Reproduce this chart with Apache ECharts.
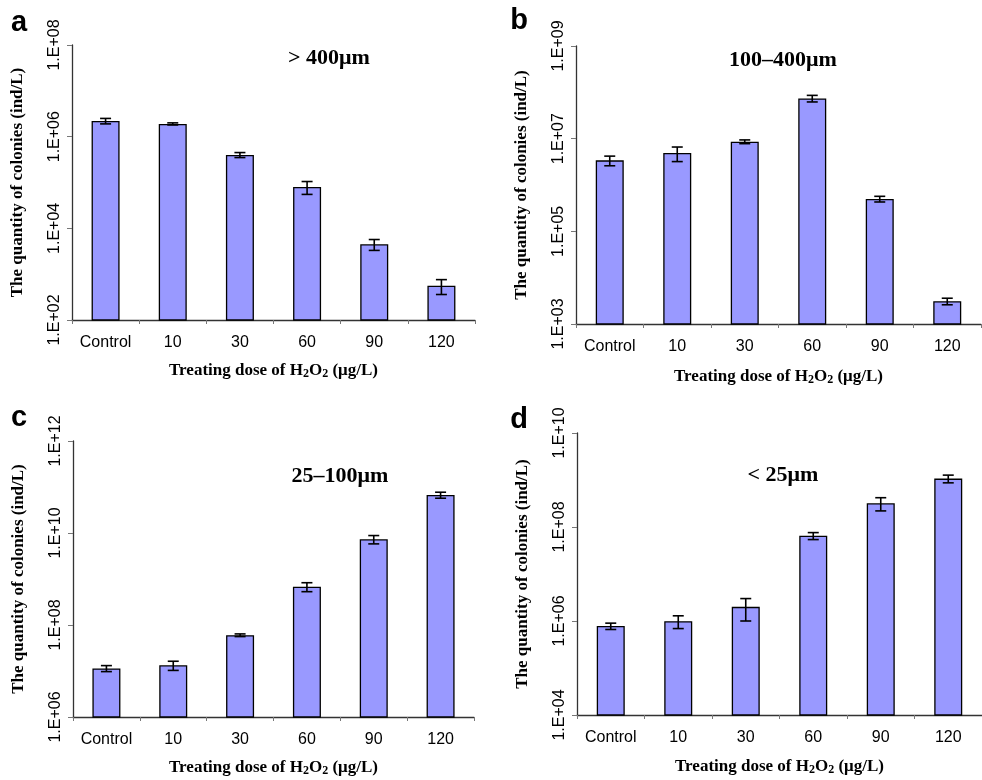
<!DOCTYPE html>
<html>
<head>
<meta charset="utf-8">
<script src="https://cdn.jsdelivr.net/npm/echarts@6/dist/echarts.min.js"></script>
<style>
  html, body { margin: 0; padding: 0; background: #fff; }
  #main { width: 982px; height: 780px; }
</style>
</head>
<body>
<div id="main"></div>
<script>
// dose groups
const categories = ['Control', '10', '30', '60', '90', '120'];

// a: > 400um
const meanA = [2.2e6, 1.9e6, 4.0e5, 8.0e4, 4.5e3, 5.6e2];
const sdA = [3e5, 1e5, 5e4, 2.5e4, 1.2e3, 2e2];
// b: 100-400um
const meanB = [3.4e6, 4.9e6, 8.6e6, 7.4e7, 5.0e5, 3.1e3];
const sdB = [8e5, 1.7e6, 8e5, 1.2e7, 7e4, 5e2];
// c: 25-100um
const meanC = [1.14e7, 1.33e7, 6.0e7, 6.8e8, 7.3e9, 6.7e10];
const sdC = [1.7e6, 3e6, 4e6, 1.5e8, 1.5e9, 1e10];
// d: < 25um
const meanD = [7.8e5, 9.9e5, 2.0e6, 6.5e7, 3.2e8, 1.07e9];
const sdD = [1.2e5, 3e5, 1.0e6, 1.1e7, 1.0e8, 2e8];

// y axis ranges + tick values
const ticksA = [1e2, 1e4, 1e6, 1e8];
const ticksB = [1e3, 1e5, 1e7, 1e9];
const ticksC = [1e6, 1e8, 1e10, 1e12];
const ticksD = [1e4, 1e6, 1e8, 1e10];

const panelTitles = ['> 400μm', '100–400μm', '25–100μm', '< 25μm'];
const panelLetters = ['a', 'b', 'c', 'd'];

const panels = [
  { mean: meanA, sd: sdA, ticks: ticksA, grid: { left: 72, top: 45, width: 403, height: 275 }, nameGap: 42 },
  { mean: meanB, sd: sdB, ticks: ticksB, grid: { left: 576, top: 46, width: 405, height: 278 }, nameGap: 44 },
  { mean: meanC, sd: sdC, ticks: ticksC, grid: { left: 73, top: 441, width: 401, height: 276 }, nameGap: 42 },
  { mean: meanD, sd: sdD, ticks: ticksD, grid: { left: 577, top: 433, width: 405, height: 282 }, nameGap: 43 }
];

const serif = '"Liberation Serif", "Times New Roman", serif';
const sans = '"Liberation Sans", Arial, sans-serif';
const axisColor = '#333';
const tickColor = '#777';

function expLabel(v) {
  const e = Math.round(Math.log10(v));
  return '1.E+' + String(e).padStart(2, '0');
}

function errorBar(params, api) {
  const i = api.value(0);
  const m = api.value(1);
  const s = api.value(2);
  const top = api.coord([i, m + s]);
  const bot = api.coord([i, m - s]);
  const half = 5.5;
  const st = { stroke: '#000', lineWidth: 1.6 };
  return {
    type: 'group',
    children: [
      { type: 'line', shape: { x1: top[0], y1: top[1], x2: bot[0], y2: bot[1] }, style: st },
      { type: 'line', shape: { x1: top[0] - half, y1: top[1], x2: top[0] + half, y2: top[1] }, style: st },
      { type: 'line', shape: { x1: bot[0] - half, y1: bot[1], x2: bot[0] + half, y2: bot[1] }, style: st }
    ]
  };
}

const grids = [], xAxes = [], yAxes = [], series = [], graphics = [];

panels.forEach(function (p, k) {
  grids.push(Object.assign({ containLabel: false }, p.grid));
  xAxes.push({
    type: 'category',
    gridIndex: k,
    data: categories,
    boundaryGap: true,
    name: 'Treating dose of H{s|2}O{s|2} (μg/L)',
    nameLocation: 'middle',
    nameGap: p.nameGap,
    nameTextStyle: {
      fontFamily: serif, fontWeight: 'bold', fontSize: 17, color: '#000',
      rich: { s: { fontFamily: serif, fontWeight: 'bold', fontSize: 12, color: '#000', verticalAlign: 'bottom', padding: [6, 0, 0, 0] } }
    },
    axisLine: { lineStyle: { color: axisColor, width: 1.3 } },
    axisTick: { show: true, interval: 0, alignWithLabel: false, length: 4, lineStyle: { color: tickColor } },
    axisLabel: { interval: 0, hideOverlap: false, margin: 15, fontFamily: sans, fontSize: 16, color: '#000' },
    splitLine: { show: false }
  });
  yAxes.push({
    type: 'log',
    logBase: 10,
    gridIndex: k,
    min: p.ticks[0],
    max: p.ticks[p.ticks.length - 1],
    name: 'The quantity of colonies (ind/L)',
    nameLocation: 'middle',
    nameGap: 46,
    nameTextStyle: { fontFamily: serif, fontWeight: 'bold', fontSize: 17, color: '#000' },
    axisLine: { show: true, lineStyle: { color: axisColor, width: 1.3 } },
    axisTick: { show: true, length: 5, lineStyle: { color: tickColor }, customValues: p.ticks },
    axisLabel: { rotate: 90, margin: 9, fontFamily: sans, fontSize: 16, color: '#000', formatter: expLabel, customValues: p.ticks },
    splitLine: { show: false },
    minorTick: { show: false }
  });
  series.push({
    type: 'bar',
    xAxisIndex: k,
    yAxisIndex: k,
    data: p.mean,
    barWidth: 28,
    clip: true,
    itemStyle: { color: '#9999ff', borderColor: '#000', borderWidth: 1.3 },
    animation: false
  });
  series.push({
    type: 'custom',
    xAxisIndex: k,
    yAxisIndex: k,
    renderItem: errorBar,
    data: p.mean.map(function (m, i) { return [i, m, p.sd[i]]; }),
    encode: { x: 0, y: 1 },
    z: 5,
    animation: false
  });
});

// panel titles and letters
const titlePos = [[329, 58], [783, 60], [340, 476], [783, 475]];
const letterPos = [[19, 23], [519, 21], [19, 418], [519, 420]];
titlePos.forEach(function (pos, k) {
  graphics.push({
    type: 'text', x: pos[0], y: pos[1],
    style: { text: panelTitles[k], align: 'center', verticalAlign: 'middle', font: 'bold 22px ' + serif, fill: '#000' }
  });
  graphics.push({
    type: 'text', x: letterPos[k][0], y: letterPos[k][1],
    style: { text: panelLetters[k], align: 'center', verticalAlign: 'middle', font: 'bold 29px ' + sans, fill: '#000' }
  });
});

const myChart = echarts.init(document.getElementById('main'), null, { renderer: 'canvas' });
myChart.setOption({
  animation: false,
  backgroundColor: '#fff',
  grid: grids,
  xAxis: xAxes,
  yAxis: yAxes,
  series: series,
  graphic: graphics
});
</script>
</body>
</html>
